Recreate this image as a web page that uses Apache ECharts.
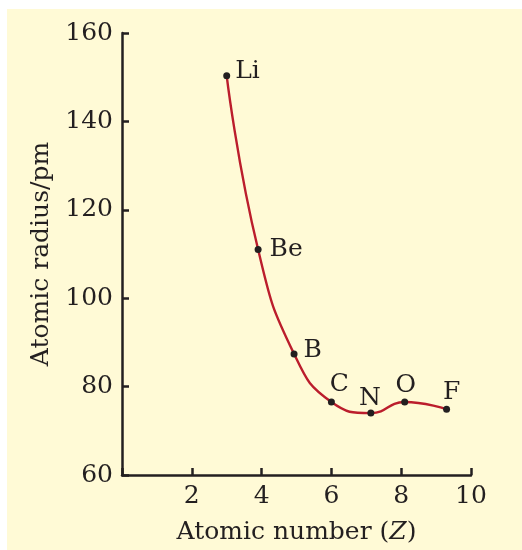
<!DOCTYPE html>
<html>
<head>
<meta charset="utf-8">
<script src="https://cdn.jsdelivr.net/npm/echarts@6/dist/echarts.min.js"></script>
<style>
html,body{margin:0;padding:0;background:#ffffff;}
#chart{width:522px;height:550px;}
</style>
</head>
<body>
<div id="chart"></div>
<script>
var elements = ['Li', 'Be', 'B', 'C', 'N', 'O', 'F'];
var atomicNumber = [3, 3.9, 4.93, 6, 7.13, 8.1, 9.3];
var atomicRadius = [150.3, 111, 87.4, 76.5, 74, 76.5, 74.9];
var xTicks = [2, 4, 6, 8, 10];
var yTicks = [60, 80, 100, 120, 140, 160];

var labelPos = {
  Li: {position: 'right', offset: [0, -4]},
  Be: {position: 'right', offset: [3, 0]},
  B: {position: 'right', offset: [1, -3]},
  C: {position: 'inside', offset: [8, -18]},
  N: {position: 'inside', offset: [-1, -15]},
  O: {position: 'inside', offset: [1, -17]},
  F: {position: 'inside', offset: [5, -17]}
};

var pts = atomicNumber.map(function (x, i) { return [x, atomicRadius[i]]; });
var labelled = pts.map(function (p, i) {
  var lp = labelPos[elements[i]];
  return {value: p, name: elements[i], label: {position: lp.position, offset: lp.offset}};
});

var font = 'DejaVu Serif';
var ink = '#231f20';
var fs = 25;
var chart = echarts.init(document.getElementById('chart'), null, {renderer: 'canvas'});
chart.setOption({
  backgroundColor: '#ffffff',
  animation: false,
  graphic: [{
    type: 'rect', z: -10, silent: true,
    shape: {x: 7, y: 9, width: 515, height: 541},
    style: {fill: '#fffad6'}
  }],
  grid: {left: 122, top: 33, right: 51, bottom: 75},
  xAxis: {
    type: 'value', min: 0, max: 10, interval: 2,
    axisLine: {show: true, lineStyle: {color: ink, width: 2.5}},
    axisTick: {show: true, inside: true, length: 7, lineStyle: {color: ink, width: 2.5}},
    splitLine: {show: false},
    axisLabel: {
      color: ink, fontFamily: font, fontSize: fs, margin: 9,
      formatter: function (v) { return xTicks.indexOf(v) >= 0 ? String(v) : ''; }
    },
    name: 'Atomic number ({i|Z})', nameLocation: 'middle', nameGap: 45,
    nameTextStyle: {color: ink, fontFamily: font, fontSize: fs,
      rich: {i: {fontStyle: 'italic', fontFamily: font, fontSize: fs, color: ink}}}
  },
  yAxis: {
    type: 'value', min: 60, max: 160, interval: 20,
    axisLine: {show: true, lineStyle: {color: ink, width: 2.5}},
    axisTick: {show: true, inside: true, length: 7, lineStyle: {color: ink, width: 2.5}},
    splitLine: {show: false},
    axisLabel: {
      color: ink, fontFamily: font, fontSize: fs, margin: 9,
      formatter: function (v) { return yTicks.indexOf(v) >= 0 ? String(v) : ''; }
    },
    name: 'Atomic radius/pm', nameLocation: 'middle', nameGap: 67,
    nameTextStyle: {color: ink, fontFamily: font, fontSize: fs}
  },
  series: [{
    type: 'line', data: pts, smooth: 0.5, showSymbol: false,
    lineStyle: {color: '#bb1d2c', width: 2.4}, z: 2
  }, {
    type: 'scatter', data: labelled, symbol: 'circle', symbolSize: 7,
    itemStyle: {color: ink, opacity: 1}, z: 3,
    label: {show: true, formatter: '{b}', color: ink, fontFamily: font, fontSize: fs, distance: 5}
  }]
});
</script>
</body>
</html>
